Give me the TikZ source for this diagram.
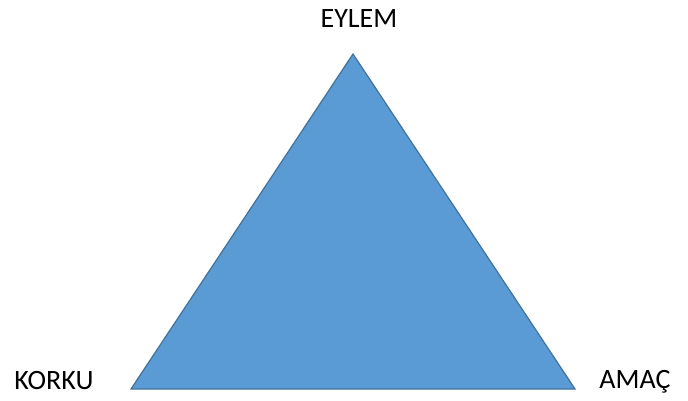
\documentclass[tikz,border=0pt]{standalone}
\usepackage{fontspec}
\setmainfont{Carlito}
\usetikzlibrary{positioning}
\definecolor{trifill}{HTML}{5B9BD5}
\definecolor{triline}{HTML}{41719C}
\tikzset{every picture/.style={line width=0.75pt}}

\begin{document}
\begin{tikzpicture}[x=1pt, y=-1pt, font=\fontsize{28}{33}\selectfont]
        \useasboundingbox (0,0) rectangle (688,401);
        % vértices do triângulo
        \coordinate (topo) at (353,54);
        \coordinate (esq) at (131,389);
        \coordinate (dir) at (575,389);
        \filldraw[fill=trifill, draw=triline, line width=1.2pt, line join=miter] (topo) -- (esq) -- (dir) -- cycle;
        % rótulos
        \node[anchor=base] (eylem) at (359,28) {EYLEM};
        \node[anchor=base] (korku) at (54,389) {KORKU};
        \node[anchor=base] (amac) at (635,388) {AMAÇ};
    \end{tikzpicture}
\end{document}
